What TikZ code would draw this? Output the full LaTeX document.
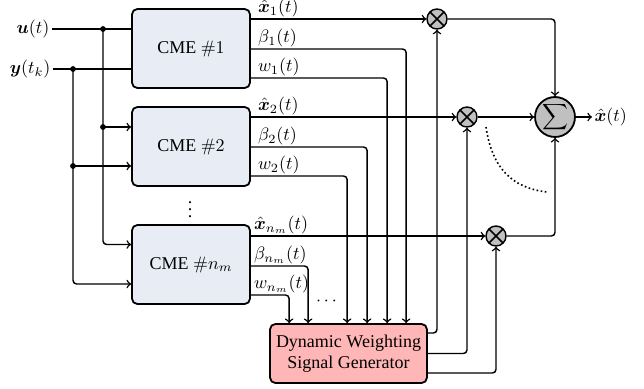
\documentclass[tikz,border=0pt]{standalone}
\usepackage{amsmath,bm}
\usepackage[no-math]{fontspec}
\setmainfont{Liberation Serif}
\usetikzlibrary{calc}
\definecolor{cmefill}{RGB}{232,237,245}
\definecolor{dwfill}{RGB}{255,182,182}
\definecolor{opfill}{RGB}{192,192,192}
\begin{document}
\begin{tikzpicture}[x=0.5556pt,y=-0.5556pt, line width=0.8pt, >=to,
  cme/.style={draw, line width=1pt, rounded corners=3pt, fill=cmefill, minimum width=65.6pt, minimum height=43.9pt, inner sep=0pt},
  dwbox/.style={draw, line width=1pt, rounded corners=3pt, fill=dwfill, minimum width=87.2pt, minimum height=32.8pt, inner sep=0pt, align=center},
  mult/.style={circle, draw, line width=0.8pt, fill=opfill, minimum size=11.1pt, inner sep=0pt,
    path picture={\draw[line width=0.8pt] (path picture bounding box.north west)--(path picture bounding box.south east)
      (path picture bounding box.south west)--(path picture bounding box.north east);}},
  sumnode/.style={circle, draw, line width=1pt, fill=opfill, minimum size=22.2pt, inner sep=0pt},
  lab/.style={anchor=south west, inner sep=0.8pt},
  dot/.style={circle, fill, inner sep=0pt, minimum size=3.2pt},
  conn/.style={rounded corners=2pt}
]
\useasboundingbox (0,0) rectangle (644,388);

% blocks
\node[cme] (c1) at (191,48.5) {CME $\#1$};
\node[cme] (c2) at (191,146.5) {CME $\#2$};
\node[cme] (cn) at (191,264.5) {CME $\#n_m$};
\node[dwbox] (dw) at (348.5,353.5) {Dynamic Weighting\\Signal Generator};
\node[mult] (m1) at (437,19) {};
\node[mult] (m2) at (467,117) {};
\node[mult] (mn) at (496,236) {};
\node[sumnode] (s) at (555,117) {$\displaystyle\sum$};

% inputs
\node[anchor=east, inner sep=1pt] (ul) at (52,29) {$\bm{u}(t)$};
\node[anchor=east, inner sep=1pt] (yl) at (53,69) {$\bm{y}(t_k)$};
\coordinate (ud) at (103,29);
\coordinate (yd) at (73,69);
\coordinate (c2u) at ($(c2.west)+(0,-19.5)$);
\coordinate (c2y) at ($(c2.west)+(0,19.5)$);
\coordinate (cnu) at ($(cn.west)+(0,-20)$);
\coordinate (cny) at ($(cn.west)+(0,19.5)$);

\draw (ul.east) -- (c1.west |- ul.east);
\draw (yl.east) -- (c1.west |- yl.east);
\draw[conn,->] (ud) |- (cnu);
\draw[conn,->] (yd) |- (cny);
\draw[->] (ud |- c2u) -- (c2u);
\draw[->] (yd |- c2y) -- (c2y);
\node[dot] (d1) at (ud) {};
\node[dot] (d2) at (yd) {};
\node[dot] (d3) at (ud |- c2u) {};
\node[dot] (d4) at (yd |- c2y) {};

% outputs of CMEs
\coordinate (x1) at ($(c1.east)+(0,-29.5)$);
\coordinate (b1) at ($(c1.east)+(0,0.5)$);
\coordinate (w1) at ($(c1.east)+(0,29.5)$);
\coordinate (x2) at ($(c2.east)+(0,-29.5)$);
\coordinate (b2) at ($(c2.east)+(0,0.5)$);
\coordinate (w2) at ($(c2.east)+(0,29.5)$);
\coordinate (xn) at ($(cn.east)+(0,-28.5)$);
\coordinate (bn) at ($(cn.east)+(0,1.5)$);
\coordinate (wn) at ($(cn.east)+(0,30.5)$);

\coordinate (i1) at ($(dw.north west)+(137,0)$);
\coordinate (i2) at ($(dw.north west)+(118,0)$);
\coordinate (i3) at ($(dw.north west)+(98,0)$);
\coordinate (i4) at ($(dw.north west)+(78,0)$);
\coordinate (i5) at ($(dw.north west)+(39,0)$);
\coordinate (i6) at ($(dw.north west)+(20,0)$);

\draw[->] (x1) -- (m1.west);
\draw[conn,->] (b1) -| (i1);
\draw[conn,->] (w1) -| (i2);
\draw[->] (x2) -- (m2.west);
\draw[conn,->] (b2) -| (i3);
\draw[conn,->] (w2) -| (i4);
\draw[->] (xn) -- (mn.west);
\draw[conn,->] (bn) -| (i5);
\draw[conn,->] (wn) -| (i6);

\node[lab] (lx1) at ($(x1)+(5,0)$) {$\hat{\bm{x}}_1(t)$};
\node[lab] (lb1) at ($(b1)+(5,0)$) {$\beta_1(t)$};
\node[lab] (lw1) at ($(w1)+(5,0)$) {$w_1(t)$};
\node[lab] (lx2) at ($(x2)+(5,0)$) {$\hat{\bm{x}}_2(t)$};
\node[lab] (lb2) at ($(b2)+(5,0)$) {$\beta_2(t)$};
\node[lab] (lw2) at ($(w2)+(5,0)$) {$w_2(t)$};
\node[lab] (lxn) at ($(xn)+(1,0)$) {$\hat{\bm{x}}_{n_m}(t)$};
\node[lab] (lbn) at ($(bn)+(1,0)$) {$\beta_{n_m}(t)$};
\node[lab] (lwn) at ($(wn)+(1,0)$) {$w_{n_m}(t)$};

% weighting outputs
\coordinate (o1) at ($(dw.east)+(0,-20.5)$);
\coordinate (o2) at ($(dw.east)+(0,0)$);
\coordinate (o3) at ($(dw.east)+(0,19.5)$);
\draw[conn,->] (o1) -| (m1.south);
\draw[conn,->] (o2) -| (m2.south);
\draw[conn,->] (o3) -| (mn.south);

% summation
\draw[conn,->] (m1.east) -| (s.north);
\draw[->] (m2.east) -- (s.west);
\draw[conn,->] (mn.east) -| (s.south);
\node[anchor=west, inner sep=1pt] (xo) at (592,117) {$\hat{\bm{x}}(t)$};
\draw[->] (s.east) -- (xo.west);

% dots
\node (vd) at (190,204) {$\vdots$};
\node (hd) at (328,301) {$\cdots$};
\coordinate (a1) at (486,127);
\coordinate (a2) at (547,192);
\draw[line width=0.9pt, dash pattern=on 0.9pt off 1.4pt] (a1) .. controls (492,168) and (512,188) .. (a2);
\end{tikzpicture}
\end{document}
